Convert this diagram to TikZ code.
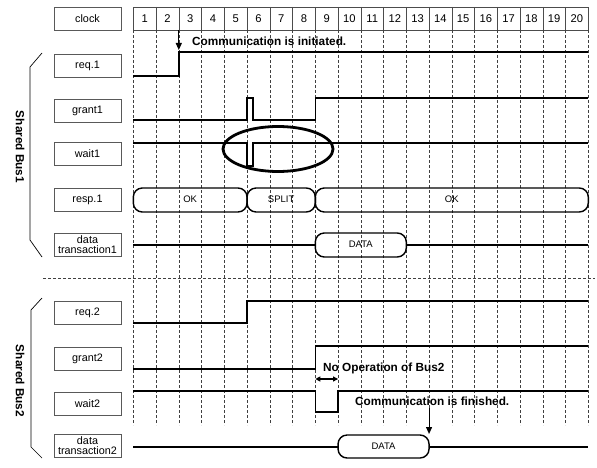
\documentclass[tikz,border=0pt]{standalone}
\usepackage{fontspec}
\setmainfont{Liberation Sans}
\usetikzlibrary{arrows.meta}
\newcommand\cx[1]{133.3+22.75*#1}
\begin{document}
\begin{tikzpicture}[x=1pt,y=-1pt,
 lbl/.style={draw=black!65, line width=0.6pt, minimum width=67pt, minimum height=23pt, inner sep=0pt, font=\fontsize{10.8}{10}\selectfont, align=center},
 sig/.style={line width=1.6pt, line join=miter},
 gridl/.style={black!75, line width=0.6pt, dash pattern=on 3pt off 2pt},
 bus/.style={draw, line width=1.4pt, rounded corners=9pt},
 note/.style={font=\fontsize{11.8}{12}\bfseries\selectfont, inner sep=0pt},
 busval/.style={font=\fontsize{9.5}{9.5}\selectfont, inner sep=0pt},
 num/.style={font=\fontsize{11.2}{11}\selectfont, inner sep=0pt},
 brk/.style={line width=0.7pt},
 ann/.style={line width=1.1pt, -{Triangle[length=7pt,width=6pt]}},
 dann/.style={line width=1.1pt, {Triangle[length=5pt,width=5pt]}-{Triangle[length=5pt,width=5pt]}}
]
\useasboundingbox (0,0) rectangle (597,468);
% clock row
\node[lbl] (lclock) at (87.5,18.5) {clock};
\draw[black!70, line width=0.6pt] ({\cx{0}},7) rectangle ({\cx{20}},30);
\foreach \i in {1,...,19} \draw[black!70, line width=0.6pt] ({\cx{\i}},7) -- ({\cx{\i}},30);
\foreach \i in {1,...,20} \node[num] (c\i) at ({\cx{\i}-11.375},18.5) {\i};
% grid
\foreach \i in {0,...,20} \draw[gridl] ({\cx{\i}},30) -- ({\cx{\i}},425);
\draw[gridl] (43,278) -- (595,278);
% labels
\node[lbl] (lreq1) at (87.5,66) {req.1};
\node[lbl] (lgnt1) at (87.5,110.5) {grant1};
\node[lbl] (lwt1) at (87.5,154) {wait1};
\node[lbl] (lrsp1) at (87.5,200) {resp.1};
\node[lbl] (ldt1) at (87.5,245) {data\\transaction1};
\node[lbl] (lreq2) at (87.5,313) {req.2};
\node[lbl] (lgnt2) at (87.5,358.5) {grant2};
\node[lbl] (lwt2) at (87.5,403.5) {wait2};
\node[lbl] (ldt2) at (87.5,446) {data\\transaction2};
% brackets
\draw[brk] (42,53) -- (30,67) -- (30,240) -- (42,257);
\draw[brk] (42,298) -- (31,310) -- (31,447) -- (42,458);
\node[note, rotate=-90] (bus1) at (20,147) {Shared Bus1};
\node[note, rotate=-90] (bus2) at (20,381) {Shared Bus2};
% bus 1 signals
\draw[sig] ({\cx{0}},76) -- ({\cx{2}},76) -- ({\cx{2}},52) -- ({\cx{20}},52);
\draw[sig] ({\cx{0}},120) -- ({\cx{5}},120) -- ({\cx{5}},98) -- (253,98) -- (253,120) -- ({\cx{8}},120) -- ({\cx{8}},98) -- ({\cx{20}},98);
\draw[sig] ({\cx{0}},143) -- ({\cx{5}},143) -- ({\cx{5}},166) -- (253,166) -- (253,143) -- ({\cx{20}},143);
\draw[bus] ({\cx{0}},188) rectangle ({\cx{5}},212);
\draw[bus] ({\cx{5}},188) rectangle ({\cx{8}},212);
\draw[bus] ({\cx{8}},188) rectangle ({\cx{20}},212);
\node[busval] (ok1) at ({(\cx{0}+\cx{5})/2},199) {OK};
\node[busval] (split) at ({(\cx{5}+\cx{8})/2},199) {SPLIT};
\node[busval] (ok2) at ({(\cx{8}+\cx{20})/2},199) {OK};
\draw[sig] ({\cx{0}},245) -- ({\cx{8}},245);
\draw[bus] ({\cx{8}},233) rectangle ({\cx{12}},257);
\draw[sig] ({\cx{12}},245) -- ({\cx{20}},245);
\node[busval] (data1) at ({(\cx{8}+\cx{12})/2},244) {DATA};
% bus 2 signals
\draw[sig] ({\cx{0}},323) -- ({\cx{5}},323) -- ({\cx{5}},301) -- ({\cx{20}},301);
\draw[sig] ({\cx{0}},369) -- ({\cx{8}},369) -- ({\cx{8}},346) -- ({\cx{20}},346);
\draw[sig] ({\cx{0}},391) -- ({\cx{8}},391) -- ({\cx{8}},412) -- ({\cx{9}},412) -- ({\cx{9}},391) -- ({\cx{20}},391);
\draw[sig] ({\cx{0}},447) -- ({\cx{9}},447);
\draw[bus] ({\cx{9}},435) rectangle ({\cx{13}},458);
\draw[sig] ({\cx{13}},447) -- ({\cx{20}},447);
\node[busval] (data2) at ({(\cx{9}+\cx{13})/2},446) {DATA};
% annotations
\node[note, anchor=west] (init) at (192,41) {Communication is initiated.};
\coordinate (a1s) at ({\cx{2}},30);
\coordinate (a1e) at ({\cx{2}},50);
\draw[ann] (a1s) -- (a1e);
\draw[line width=2.8pt] (278,149) ellipse [x radius=55pt, y radius=22.5pt];
\node[note, anchor=west] (noop) at (323,368) {No Operation of Bus2};
\coordinate (d1) at ({\cx{8}},379);
\coordinate (d2) at ({\cx{9}},379);
\draw[dann] (d1) -- (d2);
\node[note, anchor=west] (fin) at (355,401) {Communication is finished.};
\coordinate (a2s) at ({\cx{13}},408);
\coordinate (a2e) at ({\cx{13}},434);
\draw[ann] (a2s) -- (a2e);
\end{tikzpicture}
\end{document}
